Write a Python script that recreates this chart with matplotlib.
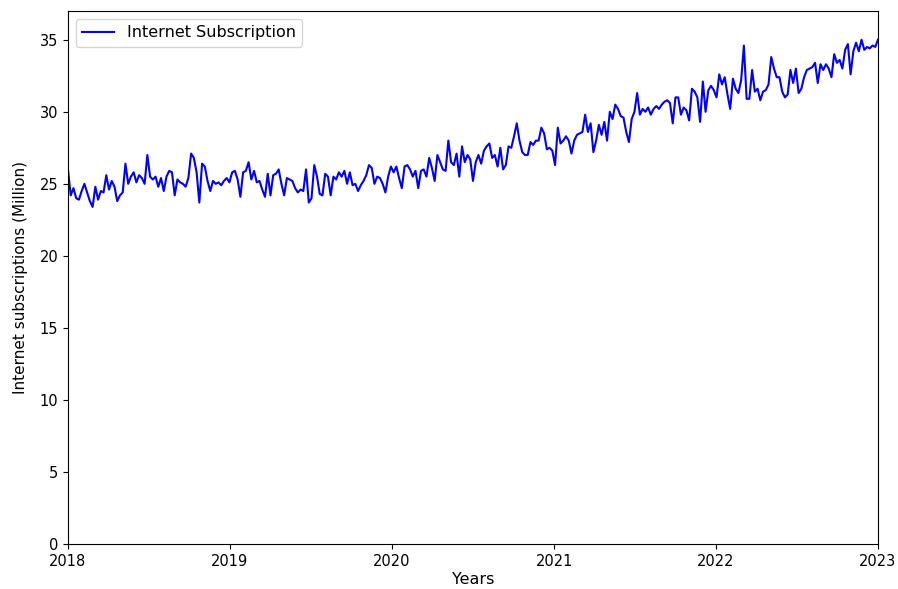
import pandas as pd
import matplotlib
matplotlib.use("Agg")
import matplotlib.pyplot as plt
import matplotlib.dates as mdates

# weekly internet subscriptions (million)
subs = [
    26.0, 24.2, 24.7, 24.0, 23.9, 24.5, 25.0, 24.4, 23.8, 23.4, 24.8, 23.9, 24.5, 24.4, 25.6,
    24.6, 25.2, 24.8, 23.8, 24.2, 24.4, 26.4, 25.0, 25.5, 25.8, 25.1, 25.6, 25.4, 25.0, 27.0,
    25.5, 25.3, 25.5, 24.8, 25.4, 24.5, 25.5, 25.9, 25.8, 24.2, 25.3, 25.1, 25.0, 24.8, 25.4,
    27.1, 26.8, 25.8, 23.7, 26.4, 26.2, 25.2, 24.5, 25.2, 25.0, 25.1, 24.9, 25.2, 25.4, 25.1,
    25.8, 25.9, 25.3, 24.1, 25.8, 25.9, 26.5, 25.3, 25.9, 25.1, 25.2, 24.6, 24.1, 25.7, 24.2,
    25.6, 25.7, 26.0, 25.0, 24.2, 25.4, 25.3, 25.2, 24.7, 24.4, 24.6, 24.5, 26.0, 23.7, 24.0,
    26.3, 25.5, 24.3, 24.2, 25.7, 25.5, 24.2, 25.5, 25.3, 25.8, 25.5, 25.9, 25.0, 25.8, 24.9,
    25.0, 24.5, 24.9, 25.2, 25.6, 26.3, 26.1, 25.0, 25.5, 25.4, 25.0, 24.4, 25.5, 26.2, 25.8,
    26.2, 25.4, 24.7, 26.2, 26.3, 26.0, 25.5, 25.9, 24.7, 25.9, 26.0, 25.5, 26.8, 26.1, 25.2,
    27.0, 26.5, 26.0, 25.9, 28.0, 26.5, 26.3, 27.1, 25.5, 27.6, 26.5, 27.0, 26.7, 25.2, 26.5,
    27.0, 26.4, 27.3, 27.6, 27.8, 26.8, 27.0, 26.2, 27.5, 26.0, 26.3, 27.6, 27.5, 28.3, 29.2,
    28.0, 27.2, 27.0, 27.0, 27.9, 27.7, 28.0, 28.0, 28.9, 28.5, 27.4, 27.5, 27.3, 26.3, 28.9,
    27.8, 28.0, 28.3, 28.0, 27.1, 28.0, 28.4, 28.5, 28.6, 29.8, 28.6, 29.2, 27.2, 28.0, 29.1,
    28.4, 29.3, 28.0, 30.0, 29.5, 30.5, 30.2, 29.7, 29.6, 28.6, 27.9, 29.5, 30.0, 31.3, 29.8,
    30.2, 30.0, 30.3, 29.8, 30.2, 30.4, 30.2, 30.5, 30.7, 30.8, 30.6, 29.2, 31.0, 31.0, 29.8,
    30.3, 30.1, 29.4, 31.6, 31.4, 31.0, 29.3, 32.1, 30.0, 31.5, 31.8, 31.5, 31.0, 32.6, 31.9,
    32.4, 31.2, 30.2, 32.3, 31.6, 31.3, 32.2, 34.6, 30.9, 30.9, 32.9, 31.4, 31.6, 30.8, 31.4,
    31.5, 31.9, 33.8, 33.0, 32.4, 32.4, 31.4, 31.0, 31.2, 32.9, 32.0, 33.0, 31.3, 31.6, 32.4,
    32.9, 33.0, 33.1, 33.4, 32.0, 33.3, 32.9, 33.3, 33.0, 32.4, 34.0, 33.4, 33.6, 33.0, 34.3,
    34.7, 32.6, 34.2, 34.8, 34.2, 35.0, 34.3, 34.5, 34.4, 34.6, 34.5, 35.0,
]
dates = pd.date_range("2018-01-01", "2023-01-01", periods=len(subs))

fig = plt.figure(figsize=(8.98, 5.89), dpi=100)
ax = fig.add_axes([0.0757, 0.0764, 0.902, 0.905])
ax.plot(dates, subs, color="blue", linewidth=1.5, label="Internet Subscription")

ax.set_xlim(pd.Timestamp("2018-01-01"), pd.Timestamp("2023-01-01"))
ax.set_ylim(0, 37)
ax.set_yticks(range(0, 36, 5))
ax.xaxis.set_major_locator(mdates.YearLocator())
ax.xaxis.set_major_formatter(mdates.DateFormatter("%Y"))
ax.tick_params(labelsize=10.5)
ax.set_xlabel("Years", fontsize=11.5, labelpad=2.5)
ax.set_ylabel("Internet subscriptions (Million)", fontsize=11, labelpad=8)
ax.legend(loc="upper left", fontsize=11.5)

fig.savefig("out.png", dpi=100)
